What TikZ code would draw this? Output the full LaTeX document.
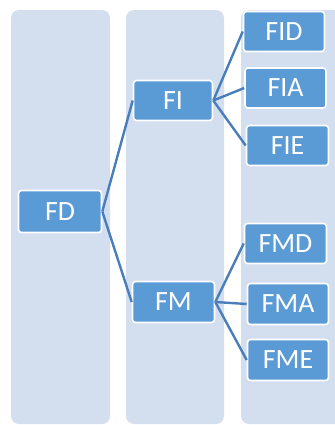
\documentclass[tikz,border=0pt]{standalone}
\usepackage{fontspec}
\setmainfont{Carlito}
\definecolor{colbg}{HTML}{D3DEEF}
\definecolor{boxfill}{HTML}{5B9BD5}
\definecolor{linkblue}{HTML}{4A7EBB}
\tikzset{
  column/.style={fill=colbg, draw=none, rounded corners=8bp},
  item/.style={fill=boxfill, draw=white, line width=1.6bp, rounded corners=3bp,
    text=white, font=\fontsize{28}{30}\selectfont, inner sep=0pt,
    minimum width=81bp, minimum height=40bp},
  link/.style={draw=linkblue, line width=2.4bp}
}
\begin{document}
\begin{tikzpicture}[x=1bp, y=-1bp]
\useasboundingbox (0,0) rectangle (335,425);
\clip (0,0) rectangle (335,425);
% level columns
\fill[column] (11,10) rectangle (110,424);
\fill[column] (126,10) rectangle (224,424);
\fill[column] (241,10) rectangle (360,424);
% nodes
\node[item, minimum width=83bp, minimum height=42bp] (FD) at (60,211.5) {FD};
\node[item, minimum width=79bp] (FI) at (173,100.5) {FI};
\node[item, minimum width=82bp, minimum height=41bp] (FM) at (173.5,302) {FM};
\node[item] (FID) at (284,31.5) {FID};
\node[item] (FIA) at (285.5,88) {FIA};
\node[item, minimum width=82bp] (FIE) at (287.5,145.5) {FIE};
\node[item, minimum width=82bp] (FMD) at (285.5,243.5) {FMD};
\node[item, minimum height=41bp] (FMA) at (288,304) {FMA};
\node[item, minimum height=41bp] (FME) at (288,360) {FME};
% connectors
\draw[link] (FD.east) -- (FI.west);
\draw[link] (FD.east) -- (FM.west);
\draw[link] (FI.east) -- (FID.west);
\draw[link] (FI.east) -- (FIA.west);
\draw[link] (FI.east) -- (FIE.west);
\draw[link] (FM.east) -- (FMD.west);
\draw[link] (FM.east) -- (FMA.west);
\draw[link] (FM.east) -- (FME.west);
\end{tikzpicture}
\end{document}
